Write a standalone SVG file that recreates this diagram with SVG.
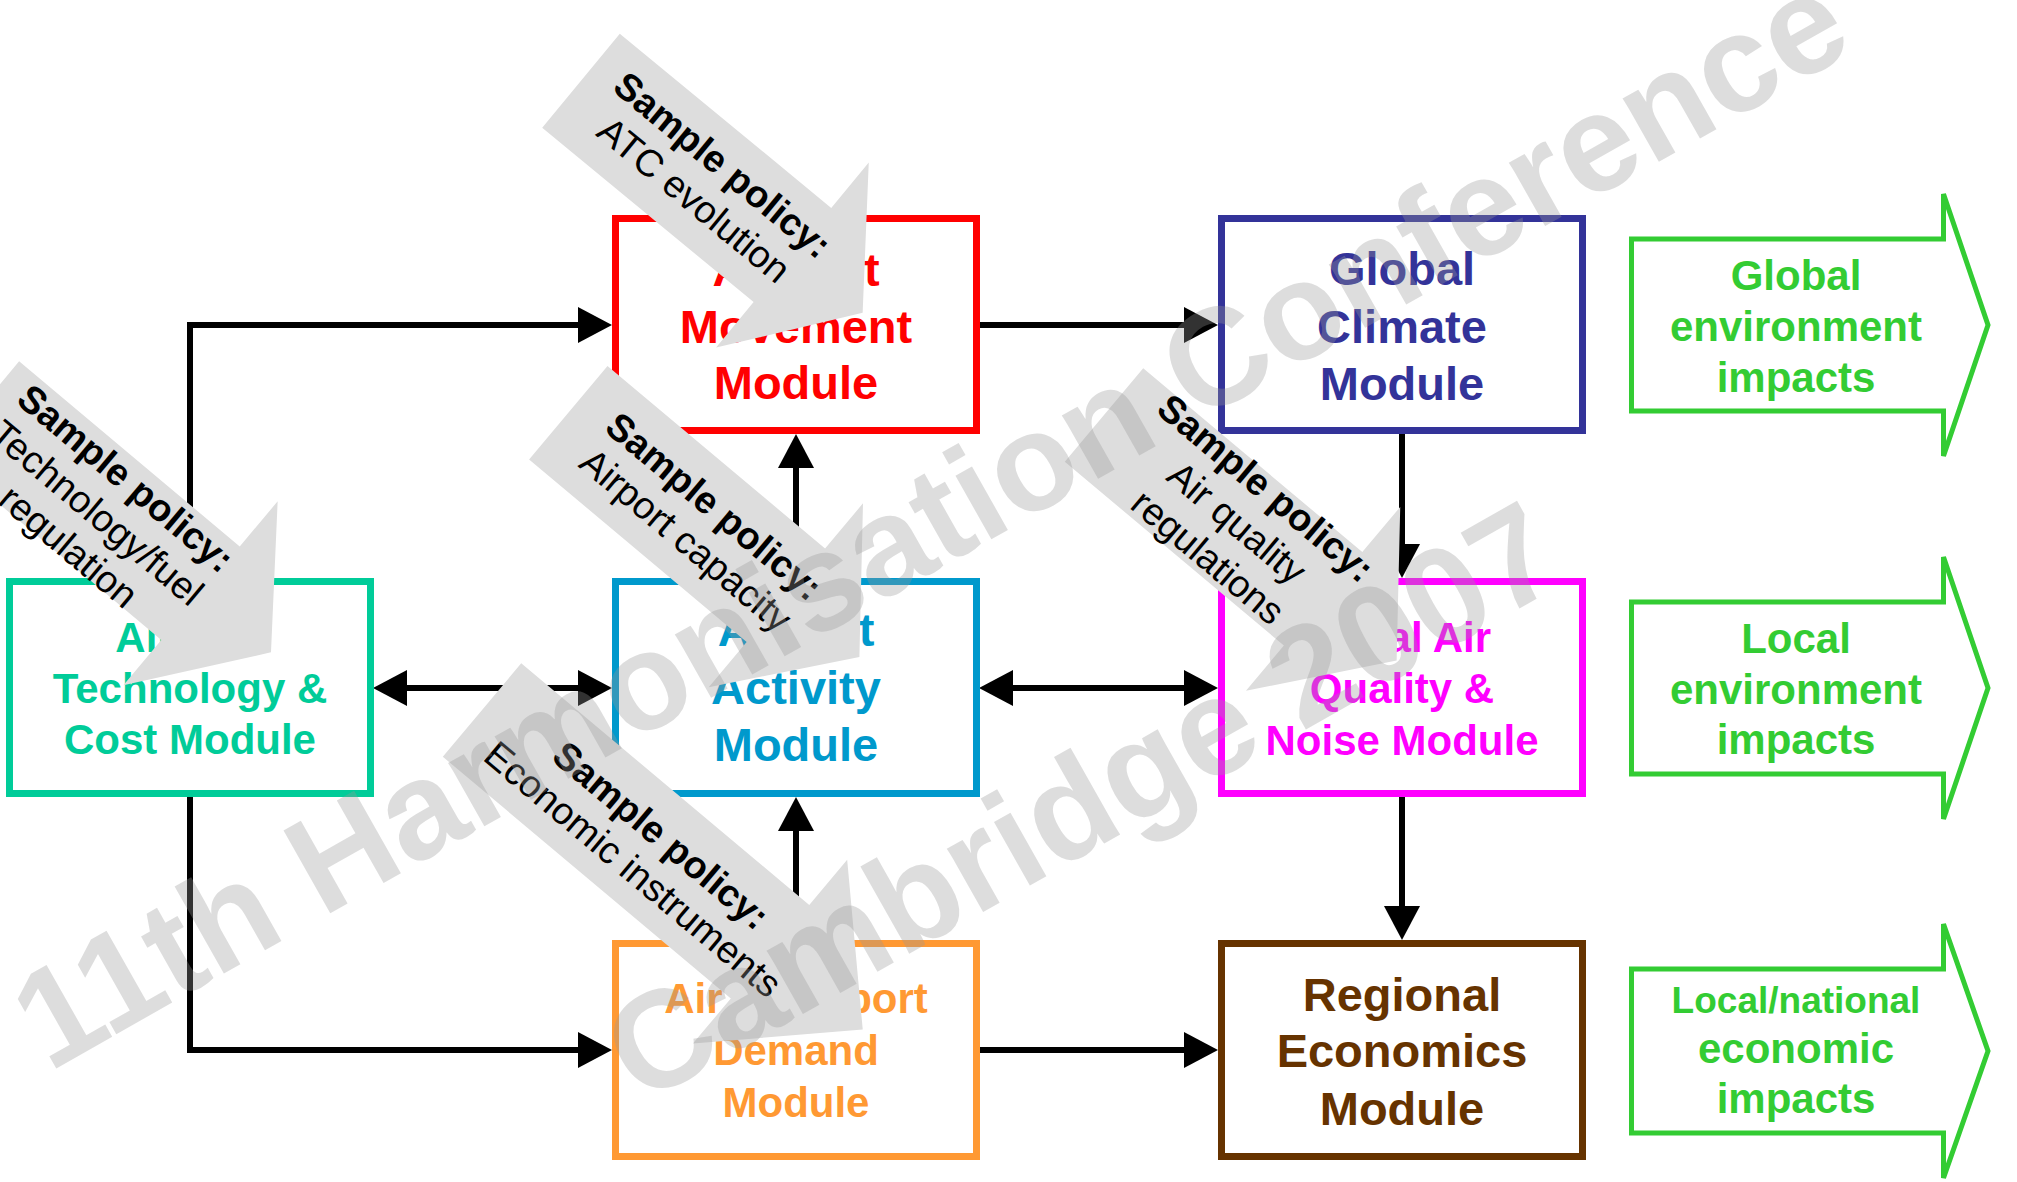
<svg xmlns="http://www.w3.org/2000/svg" width="2017" height="1182" viewBox="0 0 2017 1182">
<style>
.box{fill:#fff;stroke-width:7}
.mt{font-family:'Liberation Sans',Arial,sans-serif;font-weight:bold;text-anchor:middle}
.b47{font-size:47px}
.b42{font-size:42px}
.conn{stroke:#000;stroke-width:6;fill:none}
.pol{fill:#dddddd}
.pt{font-family:'Liberation Sans',Arial,sans-serif;font-size:38px;text-anchor:middle;fill:#000}
.ptb{font-weight:bold}
.ga{fill:#fff;stroke:#33cc33;stroke-width:5}
.gt{fill:#33cc33}
.wm{font-family:'Liberation Sans',Arial,sans-serif;font-weight:bold;font-size:138px;fill:#999999;fill-opacity:0.33;text-anchor:middle}
</style>
<defs>
<marker id="ah" markerUnits="userSpaceOnUse" markerWidth="34" markerHeight="36" viewBox="0 0 34 36" refX="4" refY="18" orient="auto-start-reverse">
<path d="M0,0 L34,18 L0,36 Z" fill="#000"/>
</marker>
</defs>
<rect width="2017" height="1182" fill="#fff"/>

<g id="connectors">
<path class="conn" d="M190,578 V325 H582" marker-end="url(#ah)"/>
<path class="conn" d="M190,797 V1050 H582" marker-end="url(#ah)"/>
<path class="conn" d="M403,688 H582" marker-start="url(#ah)" marker-end="url(#ah)"/>
<path class="conn" d="M796,578 V464" marker-end="url(#ah)"/>
<path class="conn" d="M796,940 V827" marker-end="url(#ah)"/>
<path class="conn" d="M979,325 H1188" marker-end="url(#ah)"/>
<path class="conn" d="M1009,688 H1188" marker-start="url(#ah)" marker-end="url(#ah)"/>
<path class="conn" d="M1402,434 V548" marker-end="url(#ah)"/>
<path class="conn" d="M1402,797 V910" marker-end="url(#ah)"/>
<path class="conn" d="M979,1050 H1188" marker-end="url(#ah)"/>
</g>

<g id="movement">
<rect class="box" x="615.5" y="218.5" width="361" height="212" stroke="#ff0000"/>
<text class="mt b47" fill="#ff0000"><tspan x="796" y="286">Aircraft</tspan><tspan x="796" y="343">Movement</tspan><tspan x="796" y="399">Module</tspan></text>
</g>
<g id="climate">
<rect class="box" x="1221.5" y="218.5" width="361" height="212" stroke="#333399"/>
<text class="mt b47" fill="#333399"><tspan x="1402" y="285">Global</tspan><tspan x="1402" y="343">Climate</tspan><tspan x="1402" y="400">Module</tspan></text>
</g>
<g id="technology">
<rect class="box" x="9.5" y="581.5" width="361" height="212" stroke="#00cc99"/>
<text class="mt b42" fill="#00cc99"><tspan x="190" y="652">Aircraft</tspan><tspan x="190" y="703">Technology &amp;</tspan><tspan x="190" y="754">Cost Module</tspan></text>
</g>
<g id="activity">
<rect class="box" x="615.5" y="581.5" width="361" height="212" stroke="#0099cc"/>
<text class="mt b47" fill="#0099cc"><tspan x="796" y="646">Airport</tspan><tspan x="796" y="704">Activity</tspan><tspan x="796" y="761">Module</tspan></text>
</g>
<g id="airquality">
<rect class="box" x="1221.5" y="581.5" width="361" height="212" stroke="#ff00ff"/>
<text class="mt b42" fill="#ff00ff"><tspan x="1402" y="652">Local Air</tspan><tspan x="1402" y="703">Quality &amp;</tspan><tspan x="1402" y="755">Noise Module</tspan></text>
</g>
<g id="demand">
<rect class="box" x="615.5" y="943.5" width="361" height="213" stroke="#ff9933"/>
<text class="mt b42" fill="#ff9933"><tspan x="796" y="1013">Air Transport</tspan><tspan x="796" y="1065">Demand</tspan><tspan x="796" y="1117">Module</tspan></text>
</g>
<g id="economics">
<rect class="box" x="1221.5" y="943.5" width="361" height="213" stroke="#663300"/>
<text class="mt b47" fill="#663300"><tspan x="1402" y="1011">Regional</tspan><tspan x="1402" y="1067">Economics</tspan><tspan x="1402" y="1125">Module</tspan></text>
</g>

<g id="impact-global">
<polygon class="ga" points="1631.5,239 1943.5,239 1943.5,194 1988,325 1943.5,456 1943.5,411 1631.5,411"/>
<text class="mt b42 gt"><tspan x="1796" y="290">Global</tspan><tspan x="1796" y="341">environment</tspan><tspan x="1796" y="392">impacts</tspan></text>
</g>
<g id="impact-local">
<polygon class="ga" points="1631.5,602 1943.5,602 1943.5,557 1988,688 1943.5,819 1943.5,774 1631.5,774"/>
<text class="mt b42 gt"><tspan x="1796" y="653">Local</tspan><tspan x="1796" y="704">environment</tspan><tspan x="1796" y="754">impacts</tspan></text>
</g>
<g id="impact-economic">
<polygon class="ga" points="1631.5,969 1943.5,969 1943.5,924 1988,1051 1943.5,1178 1943.5,1133 1631.5,1133"/>
<text class="mt gt" font-size="37"><tspan x="1796" y="1013">Local/national</tspan></text>
<text class="mt b42 gt"><tspan x="1796" y="1063">economic</tspan><tspan x="1796" y="1113">impacts</tspan></text>
</g>

<g id="policy-atc" transform="translate(581,80.7) rotate(39.5)">
<polygon class="pol" points="0,-61 274,-61 274,-120 365,0 274,120 274,61 0,61"/>
<text class="pt ptb" x="163" y="-12">Sample policy:</text>
<text class="pt" x="163" y="33">ATC evolution</text>
</g>
<g id="policy-tech" transform="translate(-20.1,408.1) rotate(40)">
<polygon class="pol" points="0,-61 288,-61 288,-120 380,0 288,120 288,61 0,61"/>
<text class="pt ptb" x="157" y="-27">Sample policy:</text>
<text class="pt" x="157" y="18">Technology/fuel</text>
<text class="pt" x="157" y="62">regulation</text>
</g>
<g id="policy-capacity" transform="translate(568.3,412.7) rotate(40)">
<polygon class="pol" points="0,-61 284,-61 284,-120 380,0 284,120 284,61 0,61"/>
<text class="pt ptb" x="172" y="-9">Sample policy:</text>
<text class="pt" x="172" y="35">Airport capacity</text>
</g>
<g id="policy-airquality" transform="translate(1104,415) rotate(40)">
<polygon class="pol" points="0,-61 286,-61 286,-120 382,0 286,120 286,61 0,61"/>
<text class="pt ptb" x="171" y="-35">Sample policy:</text>
<text class="pt" x="171" y="10">Air quality</text>
<text class="pt" x="171" y="55">regulations</text>
</g>
<g id="policy-economic" transform="translate(482,710) rotate(40)">
<polygon class="pol" points="0,-61 376,-61 376,-120 497,0 376,120 376,61 0,61"/>
<text class="pt ptb" x="218" y="-6">Sample policy:</text>
<text class="pt" x="218" y="38">Economic instruments</text>
</g>

<g id="watermark">
<text class="wm" x="953" y="561" font-size="136" transform="rotate(-29.5 953 561)">11th Harmonisation Conference</text>
<text class="wm" x="1105" y="843" transform="rotate(-29.5 1105 843)">Cambridge 2007</text>
</g>
</svg>
